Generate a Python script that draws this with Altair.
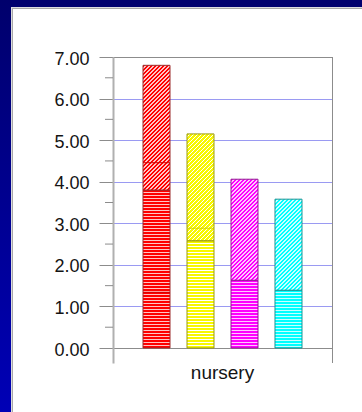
import altair as alt
import pandas as pd

# ---- values -------------------------------------------------------------
category = "nursery"
groups = ["g1", "g2", "g3", "g4"]
lower = [3.80, 2.58, 1.63, 1.39]     # striped bottom segment
upper = [3.00, 2.57, 2.43, 2.19]     # hatched top segment
divider_groups = ["g1", "g1", "g2"]
divider_values = [1.34, 4.46, 2.88]
y_ticks = [0, 1, 2, 3, 4, 5, 6, 7]
y_minor = [0.5, 1.5, 2.5, 3.5, 4.5, 5.5, 6.5]

# ---- styling ------------------------------------------------------------
fills = ["#ff0000", "#f8f800", "#ff00ff", "#00ffff"]
lights = ["#ffc4c4", "#ffffff", "#ffc8ff", "#c8ffff"]
outlines = ["#9c2a2a", "#9a9a10", "#941494", "#1a9494"]
divider_colors = ["#d00000", "#c8c800", "#c000c0", "#00c0c0"]

W, H = 219, 306
Y_MIN, Y_MAX = -0.3608, 7
PX = H / (Y_MAX - Y_MIN)
BAR_W = 27.0
FONT = "Liberation Sans"


def stripes(base, light, h, period=3.0, on=2.0):
    """Horizontal stripe fill built from a vertical hard-stop gradient."""
    stops, k = [], 0
    while k * period < h:
        a = k * period / h
        b = min((k * period + on) / h, 1)
        c = min((k + 1) * period / h, 1)
        stops += [alt.GradientStop(offset=a, color=base),
                  alt.GradientStop(offset=b, color=base),
                  alt.GradientStop(offset=b, color=light),
                  alt.GradientStop(offset=c, color=light)]
        k += 1
    return alt.LinearGradient(gradient="linear", stops=stops,
                              x1=0, y1=0, x2=0, y2=1)


def hatch(base, light, w, h, period=4.0, on=2.3):
    """45-degree '/' hatch; gradient vector chosen so iso-lines are x+y=const."""
    span = w + h
    a = span / (w * w + h * h)
    stops, k = [], 0
    while k * period < span:
        s = k * period / span
        b = min((k * period + on) / span, 1)
        c = min((k + 1) * period / span, 1)
        stops += [alt.GradientStop(offset=s, color=base),
                  alt.GradientStop(offset=b, color=base),
                  alt.GradientStop(offset=b, color=light),
                  alt.GradientStop(offset=c, color=light)]
        k += 1
    return alt.LinearGradient(gradient="linear", stops=stops,
                              x1=0, y1=0, x2=a * w, y2=a * h)


rows = []
for g, lo, up in zip(groups, lower, upper):
    rows.append(dict(cat=category, group=g, seg="lower", y0=0.0, y1=lo))
    rows.append(dict(cat=category, group=g, seg="upper", y0=lo, y1=lo + up))
segs = pd.DataFrame(rows)

dividers = pd.DataFrame({"cat": category, "group": divider_groups,
                         "v": divider_values})
minor = pd.DataFrame({"v": y_minor})

x_axis = alt.Axis(title=None, domain=False, ticks=False, grid=False,
                  labelAngle=0, labelFontSize=19, labelPadding=0,
                  labelColor="#141414", labelFont=FONT)
y_axis = alt.Axis(values=y_ticks, format=".2f", title=None, grid=True,
                  gridColor={"condition": {"test": "datum.value === 0 || datum.value === 7",
                                           "value": "#8c8c8c"},
                             "value": "#9a9af2"},
                  tickSize=14, tickColor="#8c8c8c",
                  domainColor="#b0b0b0", domainWidth=2,
                  labelFontSize=18, labelPadding=10, labelOffset=2,
                  labelColor="#141414", labelFont=FONT)

x_scale = alt.Scale(paddingInner=0, paddingOuter=0)
xo_scale = alt.Scale(domain=groups, paddingInner=0.3864, paddingOuter=0.682)
y_scale = alt.Scale(domain=[Y_MIN, Y_MAX], nice=False, zero=False)


def enc_x():
    return alt.X("cat:N", scale=x_scale, axis=x_axis)


def enc_xo():
    return alt.XOffset("group:N", scale=xo_scale)


def enc_y(field):
    return alt.Y(field, type="quantitative", scale=y_scale, axis=y_axis)


one = alt.Data(values=[{"k": 0}])


def block(x, x2, y, y2, fill):
    return alt.Chart(one).mark_rect(fill=fill).encode(
        x=alt.value(x), x2=alt.value(x2), y=alt.value(y), y2=alt.value(y2))


# frame around the white panel
left_grad = alt.LinearGradient(
    gradient="linear", x1=0, y1=0, x2=0, y2=1,
    stops=[alt.GradientStop(offset=0, color="#00006c"),
           alt.GradientStop(offset=1, color="#0000b6")])
frame = [
    block(-113, 249, -57, -50, "#00006e"),
    block(-113, -102, -57, 355, left_grad),
    block(-102, 249, -50, -49, "#dcdce0"),
    block(-102, -101, -50, 355, "#dcdce0"),
    block(-101, 249, -49, -48, "#a8a8a8"),
    block(-101, -100, -49, 355, "#a8a8a8"),
    block(219, 220, 0, H, "#8c8c8c"),
]

minor_ticks = alt.Chart(minor).mark_rule(color="#8c8c8c", strokeWidth=1).encode(
    x=alt.value(-8), x2=alt.value(0), y=enc_y("v"))

bars = []
for i, (g, lo, up) in enumerate(zip(groups, lower, upper)):
    for seg, val in (("lower", lo), ("upper", up)):
        h = val * PX
        if seg == "lower":
            fill = stripes(fills[i], lights[i], h)
        else:
            fill = hatch(fills[i], lights[i], BAR_W, h)
        bars.append(
            alt.Chart(segs)
            .transform_filter((alt.datum.group == g) & (alt.datum.seg == seg))
            .mark_bar(fill=fill, stroke=outlines[i], strokeWidth=1)
            .encode(x=enc_x(), xOffset=enc_xo(), y=enc_y("y0"), y2="y1:Q")
        )

divider_layer = (
    alt.Chart(dividers)
    .transform_calculate(v2="datum.v")
    .mark_bar(fillOpacity=0, strokeWidth=1.2, strokeOpacity=0.8)
    .encode(x=enc_x(), xOffset=enc_xo(), y=enc_y("v"), y2="v2:Q",
            stroke=alt.Stroke("group:N",
                              scale=alt.Scale(domain=groups, range=divider_colors),
                              legend=None))
)

chart = (
    alt.layer(*frame, minor_ticks, *bars, divider_layer)
    .properties(width=W, height=H, background="white",
                padding={"left": 113, "top": 57, "right": 30, "bottom": 49},
                autosize=alt.AutoSizeParams(type="none"))
    .configure_view(stroke=None)
)

chart.save("out.html", embed_options={"renderer": "svg", "actions": False})
